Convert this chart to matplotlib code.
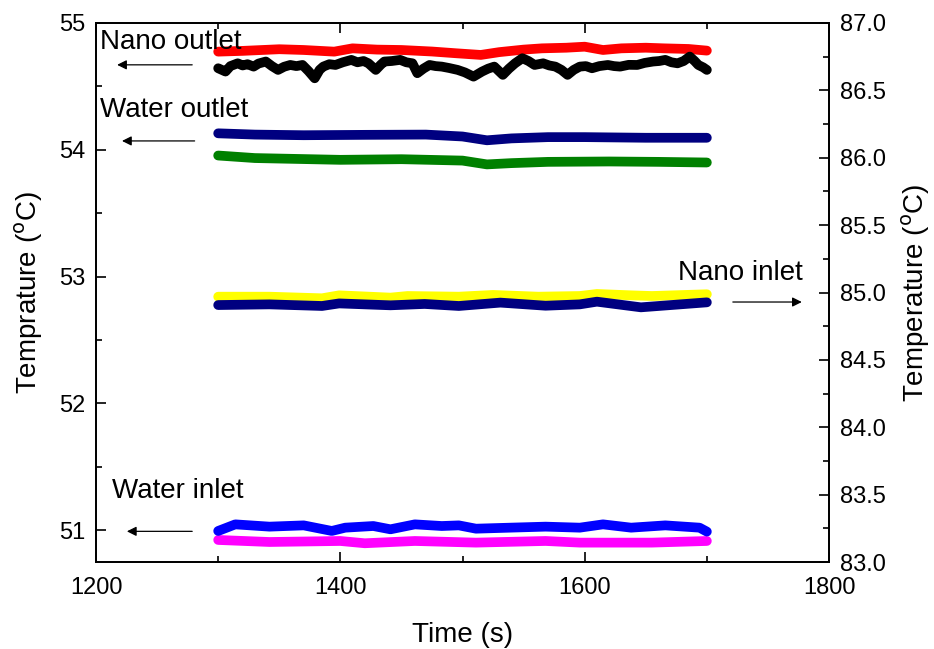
import matplotlib
matplotlib.use("Agg")
import matplotlib.pyplot as plt
from matplotlib.ticker import MultipleLocator

plt.rcParams['font.family'] = ['Liberation Sans', 'DejaVu Sans']

# --- data ---
# nano outlet, left axis
t_nano_out_a = [1300, 1320, 1350, 1370, 1395, 1410, 1430, 1450, 1475, 1495, 1515, 1530,
                1550, 1565, 1585, 1600, 1615, 1630, 1650, 1665, 1685, 1700]
nano_out_a = [54.774, 54.78, 54.793, 54.787, 54.774, 54.80, 54.79, 54.787, 54.775, 54.761, 54.748, 54.77,
              54.79, 54.80, 54.805, 54.813, 54.787, 54.80, 54.805, 54.80, 54.795, 54.782]

t_nano_out_b = [1300, 1303, 1306, 1310, 1316, 1320, 1324, 1329, 1333, 1339, 1344, 1349, 1354, 1359,
                1364, 1369, 1374, 1379, 1383, 1386, 1391, 1396, 1402, 1409, 1414, 1419, 1423, 1429,
                1433, 1436, 1442, 1449, 1454, 1459, 1463, 1468, 1473, 1478, 1483, 1489, 1496, 1502,
                1509, 1516, 1521, 1526, 1533, 1538, 1543, 1549, 1554, 1559, 1566, 1571, 1576, 1581,
                1586, 1591, 1596, 1601, 1606, 1612, 1619, 1624, 1629, 1636, 1643, 1649, 1656, 1661,
                1666, 1671, 1676, 1681, 1686, 1690, 1693, 1697, 1700]
nano_out_b = [54.643, 54.63, 54.617, 54.66, 54.682, 54.665, 54.675, 54.656, 54.68, 54.696, 54.66, 54.630,
              54.655, 54.669, 54.66, 54.669, 54.62, 54.564, 54.63, 54.656, 54.675, 54.669, 54.69, 54.709,
              54.69, 54.70, 54.682, 54.630, 54.67, 54.696, 54.70, 54.709, 54.69, 54.682, 54.604, 54.64,
              54.669, 54.66, 54.656, 54.645, 54.630, 54.61, 54.577, 54.617, 54.64, 54.656, 54.591, 54.64,
              54.682, 54.722, 54.70, 54.669, 54.682, 54.665, 54.656, 54.63, 54.591, 54.63, 54.656, 54.66,
              54.643, 54.66, 54.669, 54.66, 54.656, 54.67, 54.669, 54.685, 54.696, 54.70, 54.709, 54.69,
              54.682, 54.70, 54.735, 54.70, 54.669, 54.65, 54.630]

# water outlet, left axis
t_water_out_a = [1300, 1330, 1370, 1420, 1470, 1500, 1520, 1540, 1570, 1600, 1650, 1700]
water_out_a = [54.13, 54.12, 54.115, 54.118, 54.12, 54.105, 54.075, 54.09, 54.10, 54.10, 54.095, 54.095]

t_water_out_b = [1300, 1330, 1400, 1450, 1500, 1520, 1540, 1570, 1620, 1660, 1700]
water_out_b = [53.955, 53.935, 53.921, 53.926, 53.915, 53.885, 53.895, 53.905, 53.908, 53.905, 53.90]

# nano inlet, right axis
t_nano_in_a = [1300, 1342, 1385, 1399, 1441, 1455, 1497, 1525, 1562, 1596, 1610, 1638, 1655, 1700]
nano_in_a = [84.969, 84.969, 84.957, 84.979, 84.962, 84.974, 84.969, 84.982, 84.969, 84.974,
             84.989, 84.979, 84.974, 84.987]

t_nano_in_b = [1300, 1342, 1385, 1399, 1441, 1469, 1497, 1531, 1568, 1596, 1610, 1646, 1700]
nano_in_b = [84.907, 84.912, 84.900, 84.919, 84.905, 84.915, 84.900, 84.925, 84.902, 84.912,
             84.932, 84.890, 84.927]

# water inlet, left axis
t_water_in_a = [1300, 1314, 1342, 1370, 1393, 1404, 1427, 1441, 1461, 1483, 1497, 1511, 1539,
                1568, 1596, 1615, 1638, 1666, 1694, 1700]
water_in_a = [50.995, 51.047, 51.029, 51.039, 50.995, 51.021, 51.034, 51.008, 51.047, 51.034,
              51.039, 51.013, 51.021, 51.029, 51.021, 51.047, 51.021, 51.039, 51.021, 50.99]

t_water_in_b = [1300, 1342, 1400, 1420, 1461, 1511, 1568, 1596, 1655, 1700]
water_in_b = [50.924, 50.908, 50.916, 50.898, 50.916, 50.903, 50.916, 50.903, 50.903, 50.916]

# --- figure ---
fig = plt.figure(figsize=(9.34, 6.49), dpi=100)
ax = fig.add_axes([0.1028, 0.134, 0.7848, 0.8306])
ax2 = ax.twinx()

lw = 7
kw = dict(lw=lw, solid_capstyle='round', solid_joinstyle='round')
ax.plot(t_nano_out_a, nano_out_a, color='#ff0000', **kw)
ax.plot(t_nano_out_b, nano_out_b, color='black', **kw)
ax.plot(t_water_out_a, water_out_a, color='#000080', **kw)
ax.plot(t_water_out_b, water_out_b, color='#008000', **kw)
ax.plot(t_water_in_b, water_in_b, color='#ff00ff', **kw)
ax.plot(t_water_in_a, water_in_a, color='#0000ff', **kw)
ax2.plot(t_nano_in_a, nano_in_a, color='#ffff00', **kw)
ax2.plot(t_nano_in_b, nano_in_b, color='#000080', **kw)

ax.set_xlim(1200, 1800)
ax.set_ylim(50.75, 55)
ax2.set_ylim(83, 87)

ax.xaxis.set_major_locator(MultipleLocator(200))
ax.xaxis.set_minor_locator(MultipleLocator(100))
ax.yaxis.set_major_locator(MultipleLocator(1))
ax.yaxis.set_minor_locator(MultipleLocator(0.5))
ax2.yaxis.set_major_locator(MultipleLocator(0.5))
ax2.yaxis.set_minor_locator(MultipleLocator(0.25))
ax2.yaxis.set_major_formatter(matplotlib.ticker.FormatStrFormatter('%.1f'))

ax.tick_params(axis='x', which='both', direction='in', top=True, labelsize=17, pad=11)
ax.tick_params(axis='y', which='both', direction='in', right=False, labelsize=17, pad=8)
ax2.tick_params(axis='y', which='both', direction='in', labelsize=17, pad=8)
for a in (ax, ax2):
    a.tick_params(which='major', length=7, width=1.2)
    a.tick_params(which='minor', length=4, width=1.2)
    for s in a.spines.values():
        s.set_linewidth(1.3)

ax.set_xlabel('Time (s)', fontsize=20, labelpad=16)
ax.set_ylabel('Temprature ($^{\\rm o}$C)', fontsize=20, labelpad=10)
ax2.set_ylabel('Temperature ($^{\\rm o}$C)', fontsize=20, labelpad=10)

# annotations with arrows
arr = dict(arrowstyle='-|>', color='black', lw=0.9, mutation_scale=14)
ax.text(1203, 54.85, 'Nano outlet', fontsize=20, va='center', ha='left')
ax.annotate('', xy=(1215, 54.67), xytext=(1281, 54.67), arrowprops=arr)
ax.text(1203, 54.315, 'Water outlet', fontsize=20, va='center', ha='left')
ax.annotate('', xy=(1219, 54.07), xytext=(1283, 54.07), arrowprops=arr)
ax.text(1676, 53.03, 'Nano inlet', fontsize=20, va='center', ha='left')
ax.annotate('', xy=(1780, 52.80), xytext=(1719, 52.80), arrowprops=arr)
ax.text(1213, 51.307, 'Water inlet', fontsize=20, va='center', ha='left')
ax.annotate('', xy=(1223, 50.992), xytext=(1281, 50.992), arrowprops=arr)

fig.savefig('out.png', dpi=100)
